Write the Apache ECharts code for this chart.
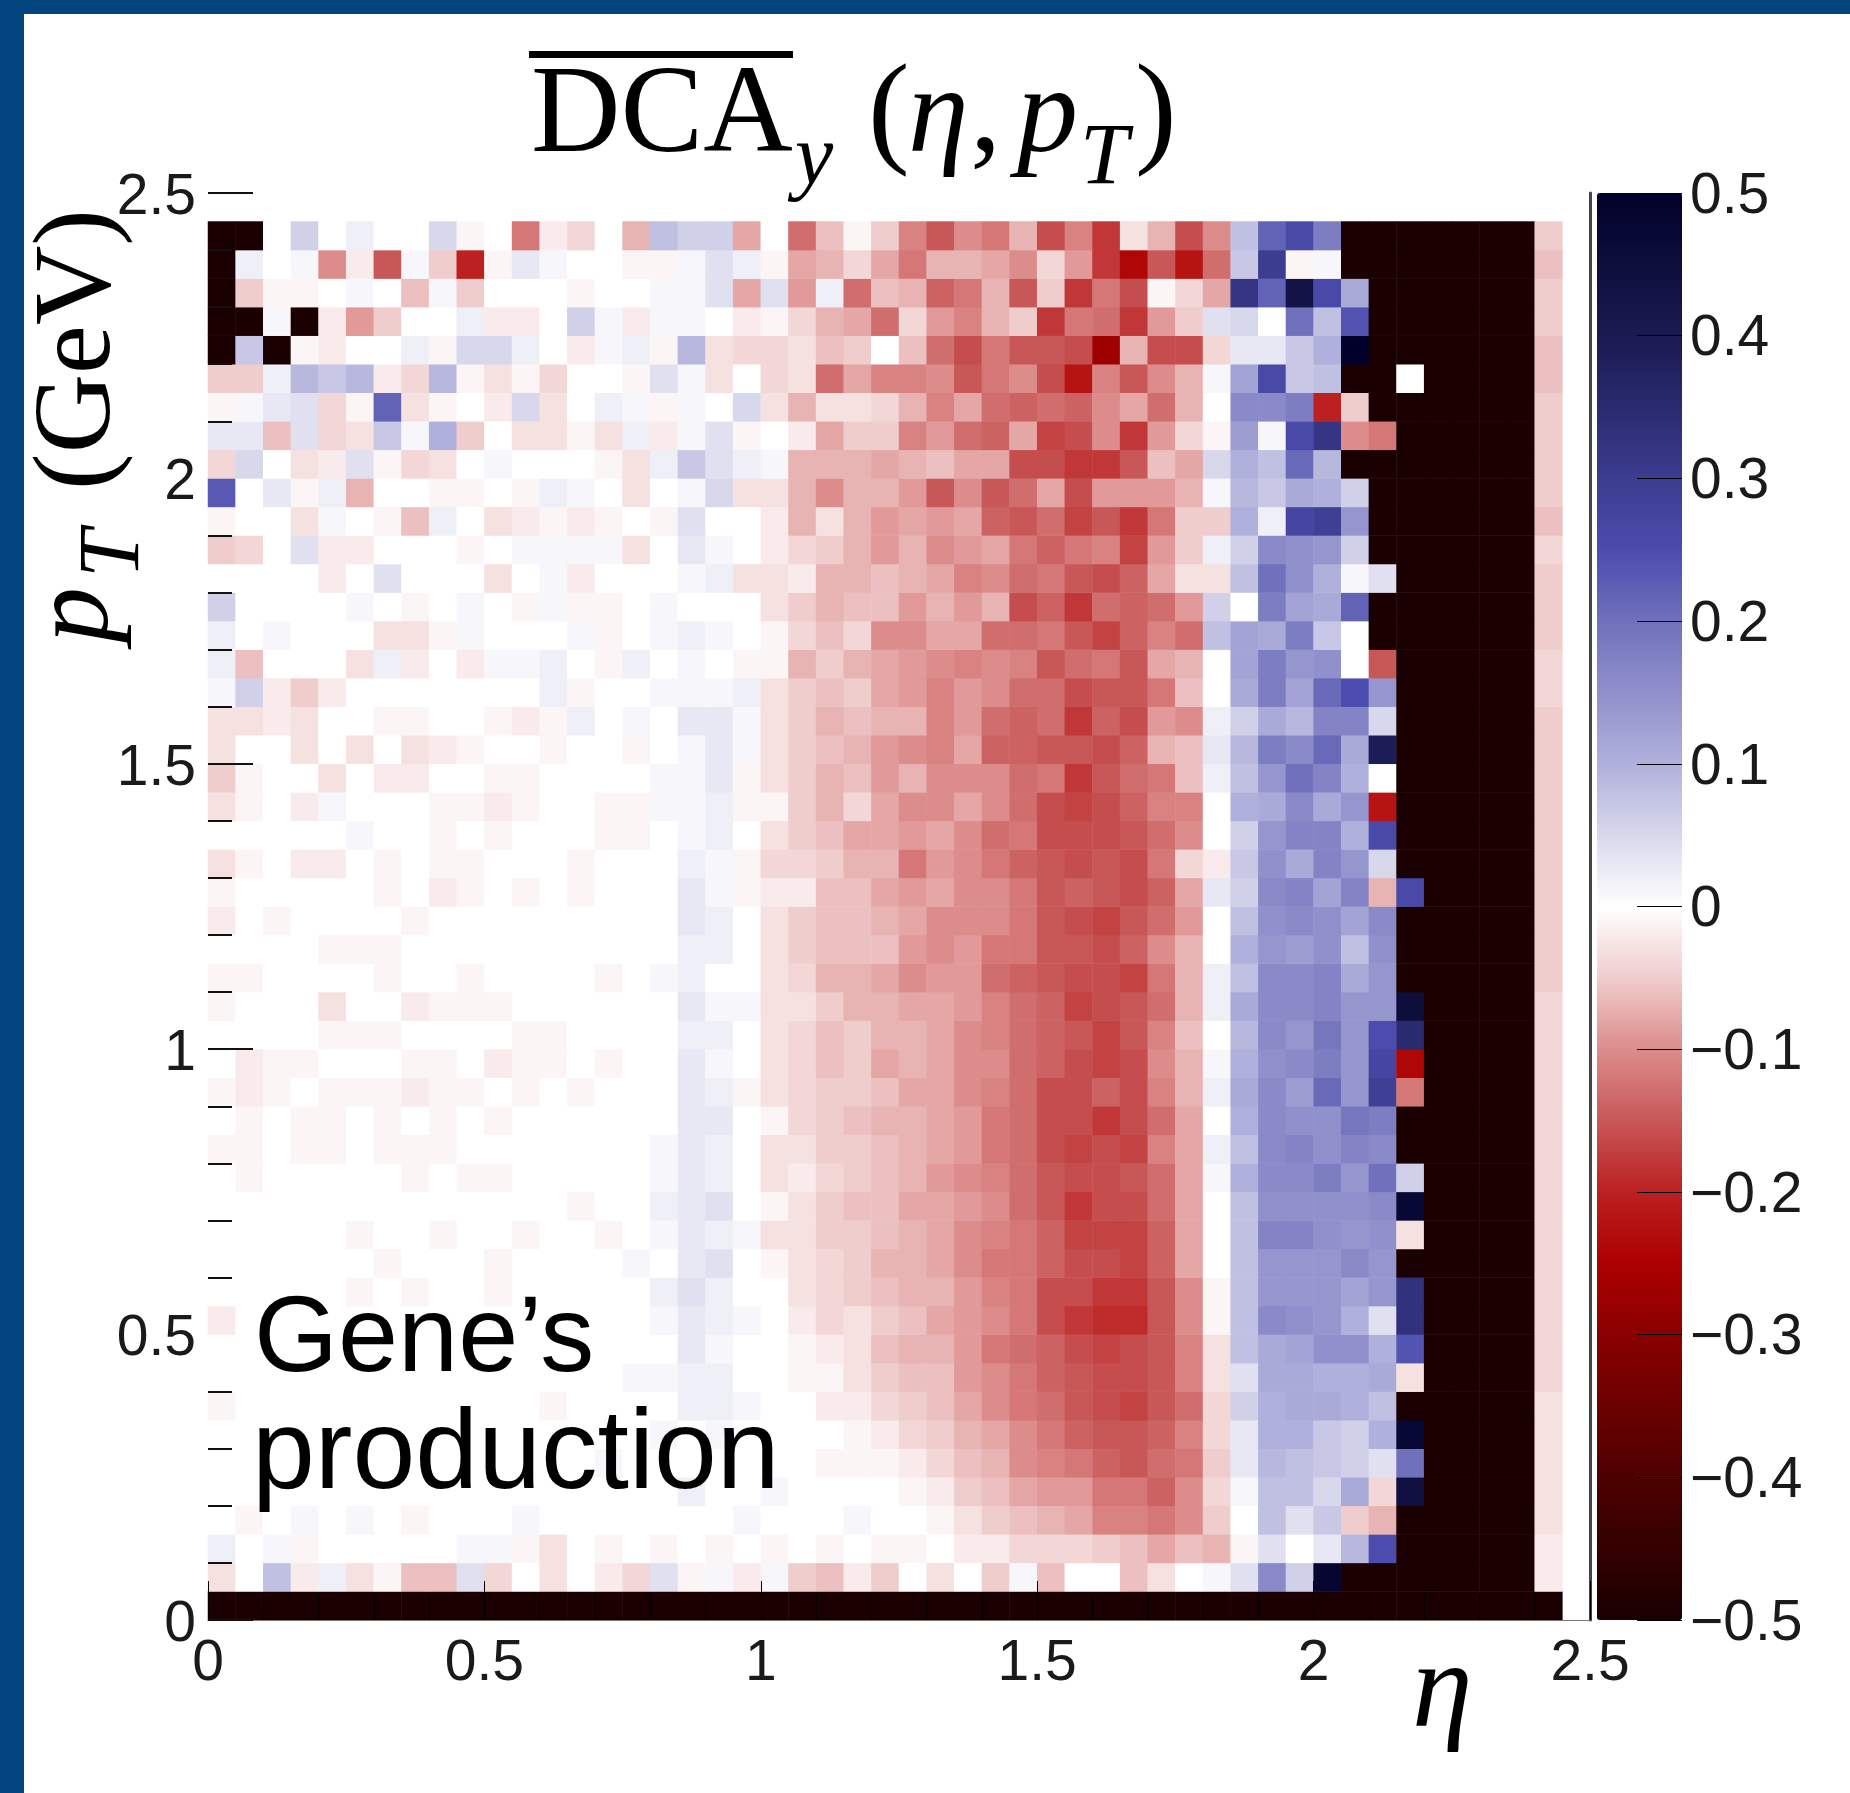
<!DOCTYPE html>
<html><head><meta charset="utf-8">
<style>html,body{margin:0;padding:0;background:#fff}#c{width:1850px;height:1793px}</style>
<script src="https://cdn.jsdelivr.net/npm/echarts@6/dist/echarts.min.js"></script>
</head><body><div id="c"></div>
<script>
// Bin values in units of 0.01. B = pile-up at the -0.5 floor, N = empty bin.
const B=-50, N=null, UNIT=0.01;
const etaBins=[0,1,2,3,4,5,6,7,8,9,10,11,12,13,14,15,16,17,18,19,20,21,22,23,24,25,26,27,28,29,30,31,32,33,34,35,36,37,38,39,40,41,42,43,44,45,46,47,48,49];
const ptBins=[0,1,2,3,4,5,6,7,8,9,10,11,12,13,14,15,16,17,18,19,20,21,22,23,24,25,26,27,28,29,30,31,32,33,34,35,36,37,38,39,40,41,42,43,44,45,46,47,48,49];
const r48=[B,B,0,6,0,2,0,0,5,-1,0,-12,-2,-4,0,-7,8,6,6,-8,0,-13,-6,-1,-5,-11,-15,-10,-12,-7,-16,-11,-18,-3,-7,-16,-10,8,22,26,18,B,B,B,B,B,B,B,-5,N];
const r47=[B,2,0,1,-10,-2,-15,1,-5,-20,-1,3,1,0,0,-1,-1,1,4,2,-1,-8,-7,-4,-8,-12,-7,-7,-8,-10,-4,-9,-18,-24,-15,-22,-13,7,30,-1,1,B,B,B,B,B,B,B,-6,N];
const r46=[B,-5,-1,-1,0,1,0,-6,1,-5,0,0,0,-1,0,0,1,1,4,-8,4,-9,2,-13,-6,-7,-14,-12,-7,-15,-5,-18,-12,-16,-1,-4,-8,32,22,43,26,11,B,B,B,B,B,B,-5,N];
const r45=[B,B,1,B,-2,-9,-5,0,0,2,-2,-2,0,6,1,-2,1,1,0,-2,-1,-4,-7,-8,-13,-4,-9,-11,-7,-5,-18,-12,-13,-18,-9,-5,4,5,0,20,8,24,B,B,B,B,B,B,-5,N];
const r44=[B,7,B,-1,-2,0,0,2,-1,5,5,2,0,-2,1,2,-1,9,-3,-4,-4,-3,-6,-5,0,-6,-13,-16,-12,-15,-15,-16,-27,-7,-16,-16,-4,3,3,7,10,50,B,B,B,B,B,B,-6,N];
const r43=[-5,-5,2,9,7,9,-2,-4,9,-1,-3,-1,-4,0,0,-1,4,1,-3,0,-4,-3,-13,-8,-11,-11,-10,-15,-12,-10,-16,-22,-11,-15,-10,-7,1,12,26,7,8,B,B,0,B,B,B,B,-6,N];
const r42=[-1,1,3,4,-4,-1,22,-3,-1,0,-2,5,-3,0,2,1,-1,1,0,5,-3,-7,-3,-3,-4,-7,-11,-8,-13,-14,-13,-14,-10,-8,-13,-7,0,16,16,18,-20,-5,B,B,B,B,B,B,-5,N];
const r41=[3,3,-6,4,-4,-3,7,1,10,-5,0,-3,-3,-1,-3,2,-2,1,4,-1,0,-2,-8,-5,-5,-11,-9,-13,-14,-8,-17,-16,-10,-18,-9,-4,-1,13,1,26,32,-10,-12,B,B,B,B,B,-5,N];
const r40=[-4,5,0,-3,-2,4,-1,-4,-3,0,1,0,0,0,-1,-3,2,7,4,2,1,-7,-7,-7,-8,-7,-6,-8,-8,-16,-16,-18,-18,-15,-6,-8,5,10,8,21,9,B,B,B,B,B,B,B,-5,N];
const r39=[23,0,3,-1,2,-7,0,0,-1,-1,0,-1,2,1,0,-3,0,1,5,-3,-3,-7,-10,-7,-7,-9,-15,-10,-15,-13,-8,-16,-9,-9,-9,-7,1,9,7,11,10,6,B,B,B,B,B,B,-5,N];
const r38=[-1,0,0,-3,1,0,-1,-6,2,0,-3,-2,-1,-2,-1,0,-1,4,0,0,-2,-7,-3,-7,-9,-8,-9,-8,-14,-15,-13,-17,-15,-18,-12,-5,-5,10,2,27,29,14,B,B,B,B,B,B,-6,N];
const r37=[-5,-4,0,4,-2,-2,0,0,0,-1,0,1,1,1,1,-3,0,3,1,0,-2,-4,-5,-7,-9,-7,-10,-9,-8,-12,-14,-12,-11,-17,-9,-5,2,6,16,15,14,6,B,B,B,B,B,B,-4,N];
const r36=[0,0,0,0,-2,0,4,0,0,0,-3,0,1,-2,0,0,0,1,2,-3,-3,-2,-7,-7,-6,-7,-8,-11,-10,-13,-12,-15,-16,-14,-8,-3,-3,8,20,15,10,1,4,B,B,B,B,B,-5,N];
const r35=[6,0,0,0,0,1,0,-1,0,1,0,-1,1,-1,-1,0,1,0,0,0,-3,-5,-7,-6,-6,-9,-7,-9,-7,-16,-14,-18,-13,-14,-13,-9,6,0,18,12,11,22,B,B,B,B,B,B,-5,N];
const r34=[2,0,1,0,0,0,-3,-3,-1,1,0,0,0,1,-1,0,1,2,1,0,-1,-4,-6,-4,-10,-10,-8,-8,-13,-13,-12,-15,-17,-14,-11,-13,8,12,11,18,7,0,B,B,B,B,B,B,-5,N];
const r33=[2,-6,0,0,0,-3,2,-2,0,-2,1,1,2,0,-1,2,0,1,0,-1,-1,-7,-5,-7,-8,-9,-10,-11,-10,-11,-15,-13,-12,-15,-8,-7,0,12,18,14,15,0,-15,B,B,B,B,B,-4,N];
const r32=[1,6,-2,-5,-2,0,0,0,0,0,0,0,2,-1,0,0,1,1,1,2,-3,-5,-6,-5,-8,-9,-11,-9,-10,-13,-13,-16,-15,-15,-12,-6,0,11,18,12,21,25,14,B,B,B,B,B,-4,N];
const r31=[-3,-3,-2,-3,0,0,-1,-1,0,0,-1,-2,-1,2,0,1,0,3,3,1,-3,-5,-7,-6,-7,-7,-11,-9,-13,-14,-13,-18,-14,-16,-9,-10,2,6,11,9,17,17,5,B,B,B,B,B,-5,N];
const r30=[-3,0,0,-3,0,-3,0,-3,-2,-1,0,0,-1,0,0,-1,0,1,3,1,-3,-5,-6,-7,-9,-10,-11,-8,-14,-14,-15,-15,-16,-14,-7,-6,3,9,18,16,21,11,39,B,B,B,B,B,-5,N];
const r29=[-5,-1,0,0,-3,0,-2,-2,0,0,-1,-1,0,0,0,0,1,1,3,-1,-3,-5,-7,-6,-9,-7,-10,-10,-10,-13,-12,-18,-15,-13,-12,-6,2,8,14,20,17,10,0,B,B,B,B,B,-5,N];
const r28=[-3,-1,0,-2,1,0,0,0,-1,-1,-2,-1,0,0,-1,-1,1,1,2,-1,-1,-5,-7,-4,-8,-10,-10,-8,-10,-13,-16,-17,-16,-14,-11,-11,0,10,11,16,11,14,-22,B,B,B,B,B,-5,N];
const r27=[0,0,0,0,0,1,0,0,-1,0,-1,0,0,0,-1,-1,0,1,2,0,-3,-5,-6,-8,-8,-9,-8,-10,-13,-12,-16,-16,-16,-15,-13,-10,0,6,14,17,17,10,26,B,B,B,B,B,-5,N];
const r26=[-3,-1,0,-2,-2,0,-1,0,-1,-1,0,0,0,-1,0,0,0,2,1,-1,-4,-4,-5,-7,-7,-12,-9,-10,-12,-14,-15,-16,-15,-16,-12,-4,-2,7,15,11,17,14,5,B,B,B,B,B,-5,N];
const r25=[-1,0,0,0,0,0,-1,0,-2,-1,0,-1,0,-1,0,0,0,3,1,-1,-2,-2,-6,-6,-8,-9,-8,-10,-10,-12,-15,-14,-15,-16,-14,-8,3,6,16,17,12,17,-7,26,B,B,B,B,-5,N];
const r24=[-2,0,-1,0,0,0,0,-1,0,0,0,0,0,0,0,0,0,3,2,0,-3,-5,-6,-6,-7,-8,-10,-10,-10,-12,-15,-16,-17,-15,-13,-9,0,8,15,16,15,12,16,B,B,B,B,B,-5,N];
const r23=[0,0,0,0,-1,-1,-1,0,0,0,0,0,0,0,0,0,0,2,2,0,-3,-5,-6,-6,-6,-9,-10,-9,-12,-12,-15,-15,-16,-14,-10,-7,0,10,14,13,15,8,15,B,B,B,B,B,-5,N];
const r22=[-1,-1,0,0,0,0,-1,0,0,-1,0,0,0,0,-1,0,1,2,0,0,-3,-4,-7,-7,-8,-10,-9,-9,-13,-14,-15,-16,-16,-17,-12,-7,2,8,16,16,17,11,14,B,B,B,B,B,-5,N];
const r21=[-1,0,0,0,-3,0,0,-2,-1,-1,-1,0,0,0,0,0,0,3,1,1,-3,-3,-5,-7,-7,-8,-8,-9,-11,-13,-14,-17,-16,-15,-13,-7,2,11,16,16,17,14,14,45,B,B,B,B,-4,N];
const r20=[0,0,0,0,-1,-1,-1,0,0,0,0,-1,-1,0,0,0,0,2,2,0,-3,-4,-6,-5,-7,-7,-8,-10,-11,-13,-14,-15,-17,-15,-11,-6,0,9,16,14,19,14,25,35,B,B,B,B,-4,N];
const r19=[0,-2,-1,-1,0,0,0,-1,-1,0,-2,-1,-1,0,-1,0,0,3,1,0,-3,-4,-6,-5,-8,-7,-8,-10,-10,-13,-14,-16,-17,-16,-10,-7,1,10,15,16,18,14,27,-24,B,B,B,B,-4,N];
const r18=[-1,-2,-1,0,-1,-1,-1,-2,-1,-1,0,-1,0,-1,0,0,0,3,2,-1,-3,-4,-5,-5,-6,-8,-8,-10,-11,-13,-16,-16,-14,-16,-11,-7,2,11,16,13,21,14,29,-12,B,B,B,B,-4,N];
const r17=[0,-1,0,-1,-1,0,-1,0,-1,0,-1,0,0,0,0,0,0,3,3,0,-1,-4,-5,-6,-7,-7,-8,-9,-12,-13,-16,-16,-18,-16,-13,-8,0,10,16,15,15,19,18,B,B,B,B,B,-4,N];
const r16=[-1,-1,0,-1,-1,0,-1,-1,-1,0,0,0,0,0,0,0,1,3,2,0,-3,-3,-5,-5,-6,-7,-8,-9,-12,-13,-16,-17,-16,-17,-11,-8,2,8,16,17,15,17,16,B,B,B,B,B,-4,N];
const r15=[0,-1,0,0,0,0,0,-1,0,-1,-1,0,0,0,0,0,1,3,2,0,-3,-2,-4,-5,-6,-7,-9,-10,-11,-13,-15,-16,-16,-15,-13,-8,1,10,16,16,18,14,20,6,B,B,B,B,-4,N];
const r14=[0,0,0,0,0,0,0,0,0,0,0,0,0,-1,0,0,2,3,4,0,-1,-3,-5,-6,-6,-8,-8,-9,-10,-13,-15,-18,-16,-16,-13,-8,0,8,15,15,15,15,16,47,B,B,B,B,-4,N];
const r13=[0,0,0,0,0,-1,0,0,-1,0,0,-1,0,0,-1,0,1,3,2,1,-3,-3,-5,-5,-6,-7,-8,-10,-11,-12,-14,-17,-17,-17,-14,-8,0,8,17,17,15,14,15,-3,B,B,B,B,-4,N];
const r12=[0,0,0,0,0,0,-1,0,0,0,-1,0,0,0,0,1,0,3,4,0,-1,-3,-4,-5,-7,-7,-8,-10,-12,-12,-14,-16,-16,-17,-14,-8,0,8,14,14,14,16,14,B,B,B,B,B,-4,N];
const r11=[0,0,0,0,0,-1,0,-1,0,0,-1,0,0,0,0,0,2,4,2,0,0,-3,-4,-5,-6,-7,-7,-9,-11,-12,-16,-16,-18,-18,-15,-10,-1,8,14,14,14,12,14,33,B,B,B,B,-4,N];
const r10=[-2,0,0,0,0,0,0,0,0,0,0,0,0,0,0,0,1,3,2,1,0,-2,-4,-3,-5,-6,-8,-9,-10,-12,-16,-18,-19,-19,-15,-10,-1,8,16,15,14,10,4,33,B,B,B,B,-4,N];
const r9=[0,0,0,0,0,0,0,0,0,0,0,0,0,0,0,0,0,3,1,0,0,-1,-2,-3,-6,-7,-7,-9,-12,-13,-14,-16,-17,-16,-15,-11,-3,8,11,12,15,15,10,24,B,B,B,B,-4,N];
const r8=[0,0,0,0,0,0,0,0,0,0,0,0,0,0,0,1,1,2,2,0,0,-1,-1,-3,-5,-6,-6,-9,-10,-12,-14,-15,-16,-16,-15,-11,-3,4,11,11,10,10,11,-3,B,B,B,B,-4,N];
const r7=[-1,0,0,0,0,0,0,0,0,0,0,0,-1,0,0,0,0,2,2,1,0,0,-2,-2,-4,-5,-6,-8,-10,-12,-13,-15,-16,-17,-15,-13,-4,6,10,11,11,10,8,B,B,B,B,B,-3,N];
const r6=[0,0,0,0,0,0,0,0,0,0,0,0,0,0,0,0,1,0,1,0,0,0,0,-1,-2,-4,-5,-7,-8,-10,-12,-14,-15,-15,-14,-11,-4,3,10,10,7,6,10,47,B,B,B,B,-3,N];
const r5=[0,0,0,0,0,0,0,0,0,0,0,0,0,0,1,0,0,0,0,0,0,0,-1,-1,-1,-2,-4,-6,-7,-10,-11,-12,-14,-15,-13,-12,-5,3,9,8,7,6,4,20,B,B,B,B,-3,N];
const r4=[0,0,0,0,0,0,0,0,0,0,0,0,0,0,0,0,0,2,0,0,1,0,0,0,0,-1,-2,-5,-6,-8,-9,-9,-12,-12,-14,-10,-4,1,8,8,5,11,-4,44,B,B,B,B,-3,N];
const r3=[0,-1,0,1,0,1,0,-1,0,0,0,1,0,0,0,0,0,0,0,1,0,0,0,1,0,0,-1,-3,-5,-6,-7,-8,-11,-11,-12,-10,-5,0,8,4,7,-5,-7,B,B,B,B,B,-3,N];
const r2=[2,0,1,-1,0,0,0,0,0,1,1,-1,-3,0,-1,0,-1,0,-1,0,-1,0,-1,0,-1,-1,0,-2,-2,-4,-4,-4,-5,-6,-8,-6,-7,-1,4,0,3,9,25,B,B,B,B,B,-2,N];
const r1=[-3,0,8,-2,2,-3,-1,-6,-6,4,-4,0,-3,0,-2,-4,4,-1,1,-2,1,-5,-6,-2,-5,0,-3,0,-5,1,-6,0,0,-6,-3,0,1,4,16,6,48,B,B,B,B,B,B,B,-2,N];
const r0=[B,B,B,B,B,B,B,B,B,B,B,B,B,B,B,B,B,B,B,B,B,B,B,B,B,B,B,B,B,B,B,B,B,B,B,B,B,B,B,B,B,B,B,B,B,B,B,B,B,N];
const rows=[r0,r1,r2,r3,r4,r5,r6,r7,r8,r9,r10,r11,r12,r13,r14,r15,r16,r17,r18,r19,r20,r21,r22,r23,r24,r25,r26,r27,r28,r29,r30,r31,r32,r33,r34,r35,r36,r37,r38,r39,r40,r41,r42,r43,r44,r45,r46,r47,r48];
const paletteColors=['#1a0000','#340000','#4e0000','#6c0000','#8a0000','#ac0000','#bc2020','#c85858','#dd8c8c','#f0cdcd','#ffffff','#d8d8ec','#b0b0dc','#9090cc','#7070bc','#4c4cae','#3c3c90','#2a2a70','#191a50','#0e0e3c','#00002a'];
const xTicks={min:0,max:2.5,step:0.5}, yTicks={min:0,max:2.5,step:0.5}, zTicks={min:-0.5,max:0.5,step:0.1};
const yLongTicks=[0,1,1.5,2.5];

const heat=[];
rows.forEach((row,r)=>row.forEach((v,c)=>{ if(v!==null) heat.push([c,r,+(v*UNIT).toFixed(2)]); }));

const SERIF='"Liberation Serif"', SANS='"Liberation Sans"';
function txt(s,x,base,size,opt){opt=opt||{};
  const fam=opt.fam||SERIF, st=opt.italic?'italic ':'';
  const rot=opt.rot||0, d=0.275*size;
  return {type:'text',z:100,rotation:rot,
    x: rot? x-d : x, y: rot? base : base-d,
    style:{text:s,font:st+size+'px '+fam,fill:'#000',align:'left',verticalAlign:'middle'}};
}
const L=208,T=193,W=1382,H=1427;
const tickFont={fontFamily:SANS,fontSize:57,color:'#1a1a1a'};
const chart=echarts.init(document.getElementById('c'),null,{renderer:'canvas'});
chart.setOption({
 animation:false,backgroundColor:'#fff',
 grid:[{left:L,top:T,width:W,height:H,containLabel:false},{left:1597,top:T,width:85,height:H}],
 xAxis:[
  {type:'category',data:etaBins,gridIndex:0,show:false},
  {type:'value',gridIndex:0,position:'bottom',min:xTicks.min,max:xTicks.max,interval:xTicks.step,z:10,
   axisLine:{show:true,onZero:false,lineStyle:{color:'#777',width:1}},
   axisTick:{show:true,inside:true,length:39,lineStyle:{color:'#000',width:1}},
   minorTick:{show:true,splitNumber:5,length:27,lineStyle:{color:'#000',width:1}},
   splitLine:{show:false},axisLabel:Object.assign({margin:16},tickFont)},
  {type:'value',gridIndex:1,show:false,min:0,max:1}
 ],
 yAxis:[
  {type:'category',data:ptBins,gridIndex:0,show:false},
  {type:'value',gridIndex:0,position:'left',min:yTicks.min,max:yTicks.max,interval:yTicks.step,z:10,
   axisLine:{show:false,onZero:false},
   axisTick:{show:true,inside:true,length:45,customValues:yLongTicks,lineStyle:{color:'#111',width:2}},
   minorTick:{show:true,splitNumber:5,length:24,lineStyle:{color:'#111',width:2}},
   splitLine:{show:false},axisLabel:Object.assign({margin:12,verticalAlign:'top',lineHeight:10},tickFont)},
  {type:'value',gridIndex:0,position:'right',min:yTicks.min,max:yTicks.max,z:10,
   axisLine:{show:true,onZero:false,lineStyle:{color:'#444',width:3}},axisTick:{show:false},axisLabel:{show:false},splitLine:{show:false}},
  {type:'value',gridIndex:1,position:'right',min:zTicks.min,max:zTicks.max,interval:zTicks.step,z:10,
   axisLine:{show:false,onZero:false},
   axisTick:{show:true,inside:true,length:45,lineStyle:{color:'#000',width:1}},
   splitLine:{show:false},
   axisLabel:Object.assign({margin:8,verticalAlign:'top',lineHeight:8,formatter:v=>{const a=Math.abs(v);const t=a<1e-9?'0':a.toFixed(1);return v<-1e-9?'\u2212'+t:t;}},tickFont)}
 ],
 visualMap:{type:'continuous',seriesIndex:0,dimension:2,min:zTicks.min,max:zTicks.max,show:true,calculable:false,
   left:1597,top:T,itemWidth:85,itemHeight:H,padding:0,text:null,showLabel:false,
   inRange:{color:paletteColors}},
 series:[{type:'heatmap',xAxisIndex:0,yAxisIndex:0,data:heat,progressive:0,silent:true,emphasis:{disabled:true},itemStyle:{borderWidth:0}}],
 graphic:{elements:[
  {type:'rect',z:90,shape:{x:0,y:0,width:1850,height:14},style:{fill:'#03467F'}},
  {type:'rect',z:90,shape:{x:0,y:0,width:24,height:1793},style:{fill:'#03467F'}},
  {type:'rect',z:100,shape:{x:529,y:51,width:264,height:7},style:{fill:'#000'}},
  txt('DCA',531,153,124),
  txt('y',795,184,86,{italic:true}),
  txt('(',868,152,125),
  txt('\u03B7',908,152,122,{italic:true}),
  txt(',',970,152,125),
  txt('p',1017,152,122,{italic:true}),
  txt('T',1080,184,87,{italic:true}),
  txt(')',1135,152,125),
  txt('p',108,643,112,{italic:true,rot:Math.PI/2}),
  txt('T',139,578,87,{italic:true,rot:Math.PI/2}),
  txt('(GeV)',110,490,110,{rot:Math.PI/2}),
  txt('\u03B7',1412,1727,122,{italic:true}),
  txt('Gene\u2019s',254,1371,108,{fam:SANS}),
  txt('production',252,1488,113,{fam:SANS})
 ]}
});
</script></body></html>
